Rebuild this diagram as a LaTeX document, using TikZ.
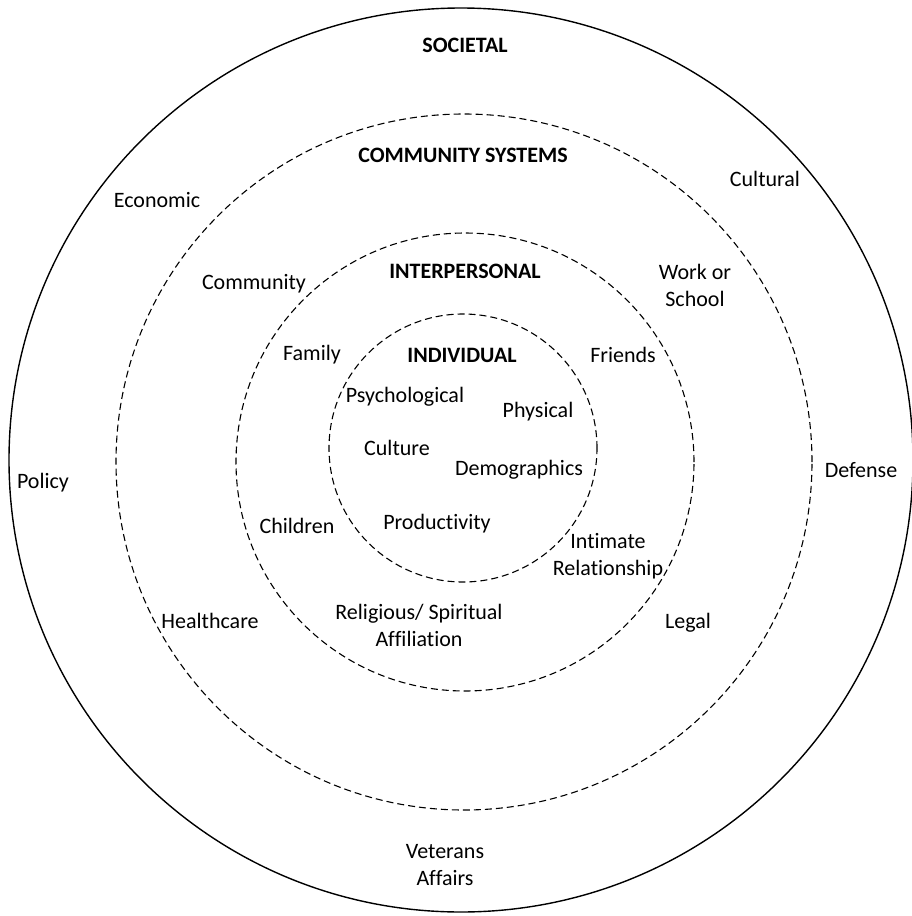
\documentclass[tikz,border=0pt]{standalone}
\usepackage{fontspec}
\setmainfont{Carlito}[Ligatures=NoCommon]
\tikzset{ring/.style={draw,line width=1.4pt}}
\tikzset{dring/.style={draw,line width=1.1pt,dash pattern=on 7pt off 4pt}}
\tikzset{lvl/.style={font=\fontsize{22}{27}\selectfont\bfseries,inner sep=0pt}}
\tikzset{fac/.style={align=center,inner sep=0pt}}
\begin{document}
\begin{tikzpicture}[x=1pt,y=-1pt,font=\fontsize{22}{27}\selectfont]
    \useasboundingbox (0,0) rectangle (912,916);

    % the four levels
    \draw[ring] (461,460) circle[radius=452pt];
    \draw[dring] (464,462) circle[radius=348pt];
    \draw[dring] (465,462) circle[radius=229pt];
    \draw[dring] (463,448) circle[radius=134pt];

    \node[lvl] (soc) at (465,45) {SOCIETAL};
    \node[lvl] (comm) at (463,155) {COMMUNITY SYSTEMS};
    \node[lvl] (inter) at (465,271) {INTERPERSONAL};
    \node[lvl] (indiv) at (462,355) {INDIVIDUAL};

    % factors
    \foreach \nm/\x/\y/\txt in {
        econ/157/200/{Economic}, cult/765/179/{Cultural},
        pol/43/483/{Policy}, def/861/470/{Defense},
        health/210/621/{Healthcare}, legal/688/623/{Legal},
        vet/445/865/{Veterans\\Affairs},
        community/254/284/{Community}, work/695/285/{Work or\\School},
        fam/312/355/{Family}, friends/623/355/{Friends},
        child/297/526/{Children}, intim/608/556/{Intimate\\Relationship},
        relig/419/625/{Religious/ Spiritual\\Affiliation},
        psych/405/397/{Psychological}, phys/538/412/{Physical},
        cult2/397/448/{Culture}, demo/519/470/{Demographics},
        prod/437/524/{Productivity}}
      \node[fac] (\nm) at (\x,\y) {\txt};
\end{tikzpicture}
\end{document}
